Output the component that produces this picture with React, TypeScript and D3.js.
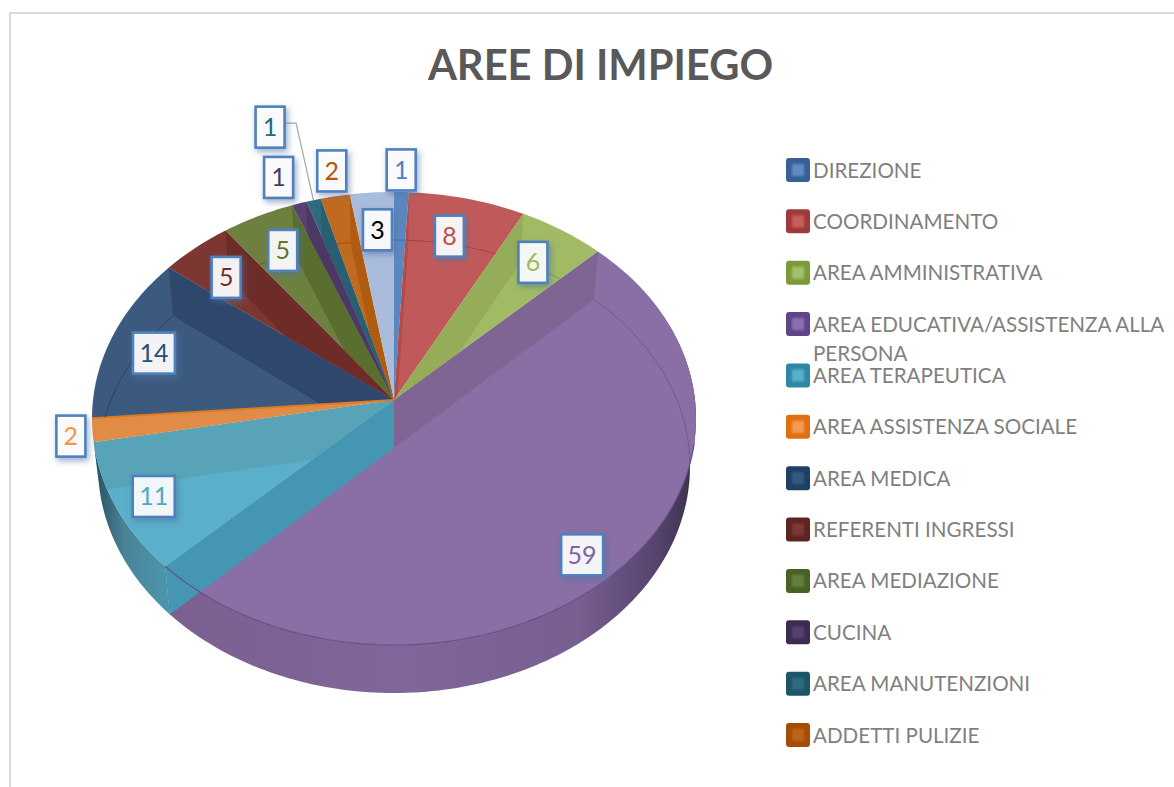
import React from 'react';
import * as d3 from 'd3';

const title = 'AREE DI IMPIEGO';

const categories = [
  'DIREZIONE', 'COORDINAMENTO', 'AREA AMMINISTRATIVA', 'AREA EDUCATIVA/ASSISTENZA ALLA PERSONA',
  'AREA TERAPEUTICA', 'AREA ASSISTENZA SOCIALE', 'AREA MEDICA', 'REFERENTI INGRESSI',
  'AREA MEDIAZIONE', 'CUCINA', 'AREA MANUTENZIONI', 'ADDETTI PULIZIE', '',
];
const values = [1, 8, 6, 59, 11, 2, 14, 5, 5, 1, 1, 2, 3];

const topColors = ['#5b87c0', '#c05a5a', '#a0bb63', '#8a6fa6', '#5aafca', '#e08c46', '#3c5a7e', '#7c3733', '#6e8040', '#5a4070', '#2f6b80', '#c06a20', '#aabcdc'];
const wallColors = ['#4a7cb8', '#b04c4c', '#95ac58', '#7f6594', '#58a3b8', '#e07a20', '#2f466d', '#6e2c28', '#5a6e30', '#4d3764', '#285f72', '#b05c10', '#a3b5d6'];
const wallFaces = ['none', 'start', 'start', 'start', 'both', 'none', 'end', 'end', 'end', 'end', 'end', 'end', 'none'];
const labelColors = ['#4f81bd', '#c0504d', '#9bbb59', '#8064a2', '#4bacc6', '#f79646', '#2c4d75', '#772c2a', '#5f7530', '#4d3b62', '#276a7c', '#b65708', '#000000'];
const legendEdges = ['#386096', '#9c3b3a', '#7a9a3c', '#5f4585', '#2f87a3', '#e0700f', '#1f3f66', '#5e2422', '#4a6125', '#3c2a52', '#1c5568', '#a44c08'];
const legendCores = ['#5b8ac4', '#c95f5d', '#a3c06a', '#8a6fb0', '#58b0cb', '#f59a55', '#34587f', '#7c3733', '#64803a', '#52406e', '#2f6b80', '#bb6316'];

// where each label box sits relative to a point 70% of the way out along its slice
const labelNudges: [number, number][] = [
  [2, -84.5], [4, -23], [21, -19], [32, 35], [-46, 21], [-112, 15], [-43, -2.5],
  [-29, -16], [-16, -21], [-49, -85], [-67.5, -133], [-21, -86.5], [-1, -25],
];
const leaderIndex = 10;
const socialIndex = 5;

const width = 1174;
const height = 787;
const cx = 394;
const cy = 400;
const depth = 48;
const persp = 0.0817;
const topRx = 301;
const bottomRx = 295;
const ryBase = 225;

type Pt = [number, number];

// perspective projection of the pie's circle: far side is squeezed
const rim = (a: number, rx = topRx, oy = 0): Pt => {
  const w = 1 + persp * Math.cos(a);
  return [cx + (rx * Math.sin(a)) / w, cy + oy - (ryBase * Math.cos(a)) / w];
};
const bottomRim = (a: number): Pt => rim(a, bottomRx, depth);

const line = d3.line<Pt>();

const arcPts = (a0: number, a1: number, fn: (a: number) => Pt): Pt[] => {
  const n = Math.max(2, Math.ceil(Math.abs(a1 - a0) / 0.02));
  return d3.range(n + 1).map(i => fn(a0 + ((a1 - a0) * i) / n));
};

const pie = d3.pie<number>().sort(null).startAngle(0).endAngle(2 * Math.PI);
const slices = pie(values);

const topPath = (a0: number, a1: number) => line([[cx, cy], ...arcPts(a0, a1, a => rim(a))])! + 'Z';
const wallPath = (a: number) => line([[cx, cy], rim(a), bottomRim(a), [cx, cy + depth]])! + 'Z';
const sidePath = (a0: number, a1: number) =>
  line([...arcPts(a0, a1, bottomRim), ...arcPts(a1, a0, a => rim(a))])! + 'Z';

const fontFamily = 'Lato, "Open Sans", sans-serif';

const legendScale = d3.scaleLinear().domain([0, 11]).range([170, 735]);

function labelCentre(i: number): Pt {
  const s = slices[i];
  const [x, y] = rim((s.startAngle + s.endAngle) / 2);
  return [cx + (x - cx) * 0.7 + labelNudges[i][0], cy + (y - cy) * 0.7 + labelNudges[i][1]];
}

export default function App() {
  const legendItems = categories.filter(c => c !== '');
  const purple = slices[3];
  const teal = slices[4];
  const leader = slices[leaderIndex];
  const leaderBox = labelCentre(leaderIndex);
  return (
    <svg
      width={width}
      height={height}
      style={{ position: 'absolute', left: 0, top: 0, display: 'block', background: '#fff' }}
    >
      <defs>
        <filter id="boxShadow" x="-40%" y="-40%" width="190%" height="190%">
          <feDropShadow dx="2" dy="3" stdDeviation="3" floodColor="#4f6f9f" floodOpacity="0.6" />
        </filter>
        <filter id="soft" x="-30%" y="-30%" width="160%" height="160%">
          <feGaussianBlur stdDeviation="1.2" />
        </filter>
        <linearGradient id="purpleSide">
          <stop offset="0" stopColor="#7a6090" />
          <stop offset="0.45" stopColor="#80669a" />
          <stop offset="0.78" stopColor="#775f90" />
          <stop offset="0.93" stopColor="#54436c" />
          <stop offset="1" stopColor="#393049" />
        </linearGradient>
        <linearGradient id="tealSide">
          <stop offset="0" stopColor="#274f5c" />
          <stop offset="0.4" stopColor="#4a8399" />
          <stop offset="1" stopColor="#4a97ae" />
        </linearGradient>
        {slices.map((s, i) => (
          <clipPath key={i} id={`slice${i}`}>
            <path d={topPath(s.startAngle, s.endAngle)} />
          </clipPath>
        ))}
      </defs>

      {/* outer frame of the pasted chart */}
      <path d={`M10,${height}V13H${width}`} fill="none" stroke="#d9d9d9" strokeWidth={2} />

      <text x={600.5} y={79.5} textAnchor="middle" fontFamily={fontFamily} fontWeight={700} fontSize={41.7} fill="#595959">
        {title}
      </text>

      {/* outer side of the pie */}
      <path d={sidePath(Math.PI * 0.3, purple.endAngle)} fill="url(#purpleSide)" />
      <path d={sidePath(teal.startAngle, teal.endAngle)} fill="url(#tealSide)" />

      {/* top faces */}
      {slices.map((s, i) => (
        <path key={i} d={topPath(s.startAngle, s.endAngle)} fill={topColors[i]} />
      ))}

      {/* inner walls seen through the top */}
      {slices.map((s, i) => (
        <g key={i}>
          {(wallFaces[i] === 'start' || wallFaces[i] === 'both') && (
            <path
              d={wallPath(s.startAngle)}
              fill={i === 4 ? '#4596b3' : wallColors[i]}
              clipPath={s.startAngle < Math.PI ? `url(#slice${i})` : undefined}
            />
          )}
          {(wallFaces[i] === 'end' || wallFaces[i] === 'both') && (
            <path d={wallPath(s.endAngle)} fill={wallColors[i]} clipPath={`url(#slice${i})`} />
          )}
        </g>
      ))}

      {/* bright top edge of the thin orange slice */}
      <path
        d={line([[cx, cy], rim(slices[socialIndex].endAngle)])!}
        fill="none"
        stroke={wallColors[socialIndex]}
        strokeWidth={1.8}
      />

      {/* back edge of the floor, through the top */}
      {slices.map((s, i) => {
        const a1 = s.startAngle > Math.PI ? s.endAngle : Math.min(s.endAngle, Math.PI * 0.56);
        return (
          <path
            key={i}
            d={line(arcPts(s.startAngle, a1, bottomRim))!}
            fill="none"
            stroke={d3.color(wallColors[i])!.darker(0.6).formatHex()}
            strokeWidth={1}
            strokeOpacity={0.7}
            clipPath={`url(#slice${i})`}
          />
        );
      })}

      {/* front rim of the top face */}
      <path
        d={line(arcPts(Math.PI * 0.56, purple.endAngle, a => rim(a)))!}
        fill="none"
        stroke="#69508a"
        strokeWidth={1.2}
      />

      {/* leader line of the small slice */}
      <path
        d={line([
          [leaderBox[0] + 15, leaderBox[1] - 4],
          [leaderBox[0] + 26, leaderBox[1] - 4],
          rim((leader.startAngle + leader.endAngle) / 2),
        ])!}
        fill="none"
        stroke="#a6a6a6"
        strokeWidth={1.2}
      />

      {/* data labels */}
      {slices.map((s, i) => {
        const [x, y] = labelCentre(i);
        const w = String(s.data).length > 1 ? 42 : 29;
        return (
          <g key={i}>
            <rect
              x={x - w / 2}
              y={y - 20.5}
              width={w}
              height={41}
              fill="#fff"
              fillOpacity={0.9}
              stroke="#4f81bd"
              strokeWidth={2.6}
              filter="url(#boxShadow)"
            />
            <text x={x} y={y + 9} textAnchor="middle" fontFamily={fontFamily} fontSize={25} fill={labelColors[i]}>
              {s.data}
            </text>
          </g>
        );
      })}

      {/* legend */}
      {legendItems.map((c, i) => {
        const y = legendScale(i);
        const wrap = c.indexOf(' ALLA PERSONA') > 0;
        return (
          <g key={c}>
            <rect x={786} y={y - 12} width={24} height={24} rx={3} fill={legendEdges[i]} />
            <rect x={792} y={y - 6} width={12} height={12} fill={legendCores[i]} filter="url(#soft)" />
            <text x={813} y={y + 7.5} fontFamily={fontFamily} fontSize={20.6} fill="#7f7f7f">
              {wrap ? c.replace(' PERSONA', '') : c}
            </text>
            {wrap && (
              <text x={813} y={y + 37} fontFamily={fontFamily} fontSize={20.6} fill="#7f7f7f">
                PERSONA
              </text>
            )}
          </g>
        );
      })}
    </svg>
  );
}
